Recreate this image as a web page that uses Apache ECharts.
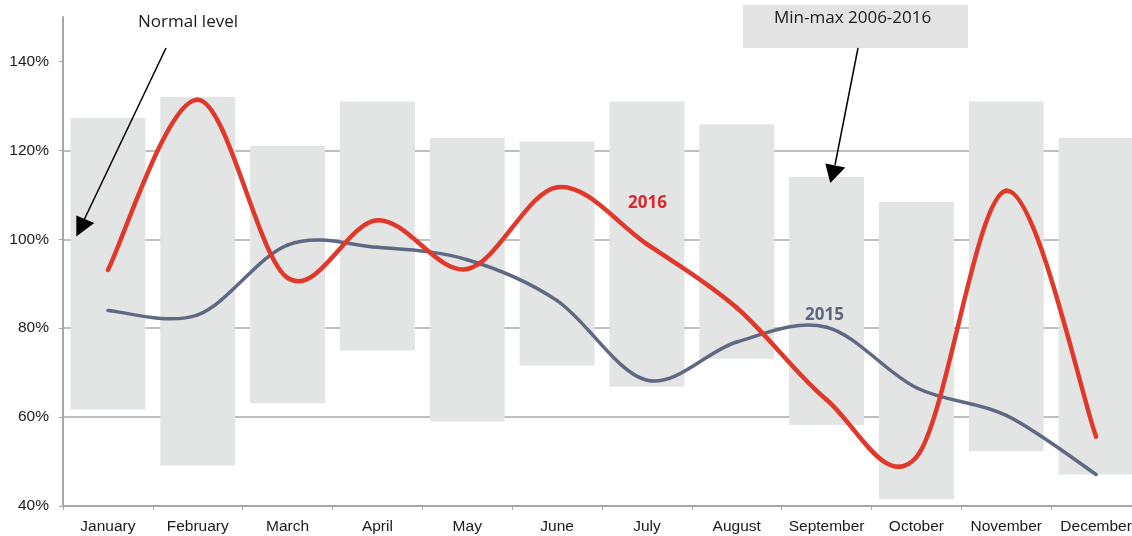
<!DOCTYPE html>
<html>
<head>
<meta charset="utf-8">
<script src="https://cdn.jsdelivr.net/npm/echarts@6/dist/echarts.min.js"></script>
<style>
  html, body { margin: 0; padding: 0; background: #fff; }
  #chart { width: 1132px; height: 536px; }
</style>
</head>
<body>
<div id="chart"></div>
<script>
// months on the x axis
const months = ['January', 'February', 'March', 'April', 'May', 'June',
  'July', 'August', 'September', 'October', 'November', 'December'];

// min-max range 2006-2016 (%)
const rangeMin = [61.7, 49.1, 63.1, 75.0, 59.0, 71.6, 66.8, 73.1, 58.2, 41.6, 52.3, 47.1];
const rangeMax = [127.3, 132.0, 121.0, 131.0, 122.8, 122.0, 131.0, 125.9, 114.0, 108.4, 131.0, 122.8];

// yearly levels (%)
const level2015 = [84.0, 83.0, 98.7, 98.2, 95.4, 86.2, 68.3, 76.9, 80.2, 66.6, 60.4, 47.1];
const level2016 = [93.1, 131.4, 91.3, 104.3, 93.3, 111.7, 98.9, 84.6, 63.9, 51.0, 110.9, 55.6];

// y axis ticks
const yTicks = [40, 60, 80, 100, 120, 140];

const rangeSize = rangeMax.map((v, i) => +(v - rangeMin[i]).toFixed(1));

// smooth line like the spreadsheet one (catmull-rom through the points)
function smoothLine(values, color, width) {
  return function (params, api) {
    const i = params.dataIndex;
    const n = values.length;
    if (i >= n - 1) return null;
    const pt = k => {
      k = Math.max(0, Math.min(n - 1, k));
      return api.coord([k, values[k]]);
    };
    const p0 = pt(i - 1), p1 = pt(i), p2 = pt(i + 1), p3 = pt(i + 2);
    return {
      type: 'bezierCurve',
      shape: {
        x1: p1[0], y1: p1[1],
        x2: p2[0], y2: p2[1],
        cpx1: p1[0] + (p2[0] - p0[0]) / 6, cpy1: p1[1] + (p2[1] - p0[1]) / 6,
        cpx2: p2[0] - (p3[0] - p1[0]) / 6, cpy2: p2[1] - (p3[1] - p1[1]) / 6
      },
      style: { stroke: color, lineWidth: width, fill: null, lineCap: 'round' }
    };
  };
}

let myChart = echarts.init(document.getElementById('chart'));

let option = {
  animation: false,
  textStyle: { fontFamily: 'Liberation Sans, Arial, sans-serif' },
  grid: { left: 63, right: -9, top: 17, bottom: 30, outerBoundsMode: 'none', containLabel: false },
  xAxis: {
    type: 'category',
    data: months,
    axisLine: { lineStyle: { color: '#a6a6a6', width: 2 } },
    axisTick: { show: true, length: 4, lineStyle: { color: '#a6a6a6', width: 1 } },
    axisLabel: { color: '#1a1a1a', fontSize: 15.5, margin: 13, interval: 0 }
  },
  yAxis: {
    type: 'value',
    min: 40,
    max: 150,
    interval: 20,
    axisLine: { show: true, lineStyle: { color: '#a6a6a6', width: 2 } },
    axisTick: { show: true, length: 4, customValues: yTicks, lineStyle: { color: '#a6a6a6' } },
    axisLabel: {
      color: '#1a1a1a', fontSize: 15.5, margin: 14,
      customValues: yTicks,
      formatter: v => v + '%'
    },
    splitLine: {
      show: true, showMinLine: false, showMaxLine: false,
      lineStyle: { color: '#a8a8a8', width: 1.5 }
    }
  },
  series: [
    {
      name: 'base',
      type: 'bar',
      stack: 'range',
      barWidth: 75,
      itemStyle: { color: 'transparent' },
      data: rangeMin,
      silent: true
    },
    {
      name: 'Min-max 2006-2016',
      type: 'bar',
      stack: 'range',
      barWidth: 75,
      itemStyle: { color: '#e3e4e4' },
      data: rangeSize
    },
    {
      name: '2015',
      type: 'custom',
      z: 3,
      renderItem: smoothLine(level2015, '#5f6984', 3.5),
      data: level2015.map((v, i) => [i, v])
    },
    {
      name: '2016',
      type: 'custom',
      z: 4,
      renderItem: smoothLine(level2016, '#e0392b', 4.5),
      data: level2016.map((v, i) => [i, v])
    }
  ],
  graphic: [
    // Normal level annotation
    {
      type: 'text', left: 138, top: 14, z: 100,
      style: { text: 'Normal level', font: '17px "Open Sans", sans-serif', fill: '#1a1a1a' }
    },
    {
      type: 'line', z: 100,
      shape: { x1: 166, y1: 48, x2: 84, y2: 220 },
      style: { stroke: '#000', lineWidth: 1.5 }
    },
    {
      type: 'polygon', z: 100,
      shape: { points: [[76.3, 236.6], [76.3, 215.4], [94.3, 222.9]] },
      style: { fill: '#000' }
    },
    // Min-max annotation
    {
      type: 'rect', z: 100,
      shape: { x: 743, y: 5, width: 225, height: 43 },
      style: { fill: '#e3e3e3' }
    },
    {
      type: 'text', left: 774, top: 10, z: 101,
      style: { text: 'Min-max 2006-2016', font: '17px "Open Sans", sans-serif', fill: '#1a1a1a' }
    },
    {
      type: 'line', z: 100,
      shape: { x1: 858, y1: 48, x2: 835, y2: 165 },
      style: { stroke: '#000', lineWidth: 1.5 }
    },
    {
      type: 'polygon', z: 100,
      shape: { points: [[830.3, 182.9], [825.3, 163.4], [845.3, 167.5]] },
      style: { fill: '#000' }
    },
    // series labels
    {
      type: 'text', left: 628, top: 195, z: 100,
      style: { text: '2016', font: 'bold 17px "Open Sans", sans-serif', fill: '#d9282f' }
    },
    {
      type: 'text', left: 805, top: 307, z: 100,
      style: { text: '2015', font: 'bold 17px "Open Sans", sans-serif', fill: '#5d6680' }
    }
  ]
};

myChart.setOption(option);
</script>
</body>
</html>
